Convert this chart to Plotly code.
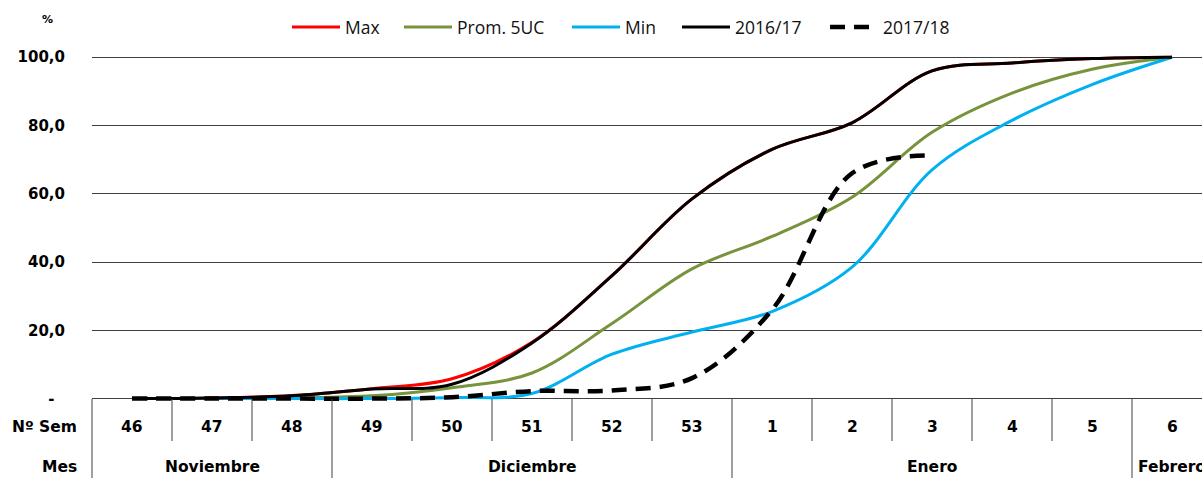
import plotly.graph_objects as go

weeks = ["46", "47", "48", "49", "50", "51", "52", "53", "1", "2", "3", "4", "5", "6"]
months = ["Noviembre", "Diciembre", "Enero", "Febrero"]
month_weeks = [3, 5, 5, 1]

max_vals = [0, 0.2, 0.9, 2.9, 5.8, 16.5, 36, 58.5, 73, 80.8, 96, 98.3, 99.6, 100]
prom_vals = [0, 0, 0.2, 0.8, 3.2, 7.5, 22, 38, 47.5, 59, 78, 89.5, 96.5, 100]
min_vals = [0, 0, 0, 0, 0.3, 1.5, 13, 19.5, 25.5, 38.5, 67, 81.5, 92, 100]
s1617_vals = [0, 0.2, 0.8, 2.8, 4.2, 16.3, 36, 58.5, 73, 80.8, 96, 98.3, 99.6, 100]
s1718_vals = [0, 0, 0, 0, 0.4, 2.2, 2.4, 6, 26, 66, 71.3]

y_ticks = [0, 20, 40, 60, 80, 100]
y_ticktext = ["-  ", "20,0", "40,0", "60,0", "80,0", "100,0"]

LEG_FONT = "Open Sans"
BOLD_FONT = "DejaVu Sans"
W, HT = 1202, 478
L, R, T, B = 92, 0, 47, 76
PW = W - L - R
PH = HT - T - B
idx = list(range(len(weeks)))
XR = [-0.5, len(weeks) - 0.625]


def py(p):
    return (HT - B - p) / PH


def pxp(p):
    return (p - L) / PW


def pxb(b):
    return (b - 0.5 - XR[0]) / (XR[1] - XR[0])


fig = go.Figure()
series = [
    ("Max", max_vals, "#FF0000", 3, None, 287),
    ("Prom. 5UC", prom_vals, "#77933C", 3, None, 399),
    ("Min", min_vals, "#00B0F0", 3, None, 567),
    ("2016/17", s1617_vals, "#000000", 3, None, 677),
    ("2017/18", s1718_vals, "#000000", 4.5, "15px,9px", 825),
]
legends = {}
for k, (name, vals, col, w, dash, lx) in enumerate(series):
    lname = "legend" if k == 0 else "legend%d" % (k + 1)
    fig.add_trace(go.Scatter(
        x=idx[:len(vals)], y=vals, name=name, mode="lines", legend=lname, showlegend=True,
        line=dict(color=col, width=w, shape="spline", smoothing=1, dash=dash),
    ))
    legends[lname] = dict(orientation="h", x=pxp(lx), y=py(27), xanchor="left", yanchor="middle",
                          font=dict(family=LEG_FONT, size=17.5, color="#111"), itemwidth=48,
                          bgcolor="rgba(0,0,0,0)")

shapes = []
ann = []
bounds = [0]
for n in month_weeks:
    bounds.append(bounds[-1] + n)
for b in range(len(weeks)):
    full = b in bounds
    shapes.append(dict(type="line", xref="paper", yref="paper",
                       x0=pxb(b), x1=pxb(b), y0=py(399), y1=py(490 if full else 441),
                       line=dict(color="#404040", width=1)))
lab_font = dict(family=BOLD_FONT, size=15.5, color="#000")
for i, w in enumerate(weeks):
    ann.append(dict(x=i, y=py(427), xref="x", yref="paper", text="<b>%s</b>" % w,
                    xanchor="center", yanchor="middle", showarrow=False, font=lab_font))
for k, m in enumerate(months):
    c = (bounds[k] + bounds[k + 1] - 1) / 2
    ann.append(dict(x=c, y=py(467), xref="x", yref="paper", text="<b>%s</b>" % m,
                    xanchor="center", yanchor="middle", showarrow=False, font=lab_font))
ann.append(dict(x=pxp(79), y=py(427), xref="paper", yref="paper", text="<b>Nº Sem</b>",
                xanchor="right", yanchor="middle", showarrow=False, font=lab_font))
ann.append(dict(x=pxp(79), y=py(467), xref="paper", yref="paper", text="<b>Mes</b>",
                xanchor="right", yanchor="middle", showarrow=False, font=lab_font))
ann.append(dict(x=pxp(47), y=py(19), xref="paper", yref="paper", text="<b>%</b>",
                xanchor="center", yanchor="middle", showarrow=False,
                font=dict(family=BOLD_FONT, size=11, color="#000")))

fig.update_layout(
    width=W, height=HT, showlegend=True,
    margin=dict(l=L, r=R, t=T, b=B, pad=0, autoexpand=False),
    paper_bgcolor="white", plot_bgcolor="white",
    font=dict(family=LEG_FONT, color="#000"),
    shapes=shapes, annotations=ann,
    xaxis=dict(range=XR, showticklabels=False, showgrid=False, zeroline=False, showline=False,
               ticks="", automargin=False),
    yaxis=dict(range=[-1, 103], tickvals=y_ticks, ticktext=y_ticktext, showgrid=True,
               gridcolor="#404040", gridwidth=1, zeroline=False, showline=False, ticks="",
               ticklabelstandoff=26, automargin=False,
               tickfont=dict(family=BOLD_FONT, size=15, color="#000", weight="bold")),
    **legends,
)

fig.write_html("out.html", config={"displayModeBar": False},
               post_script="document.body.style.margin='0px';document.body.style.overflow='hidden';")
